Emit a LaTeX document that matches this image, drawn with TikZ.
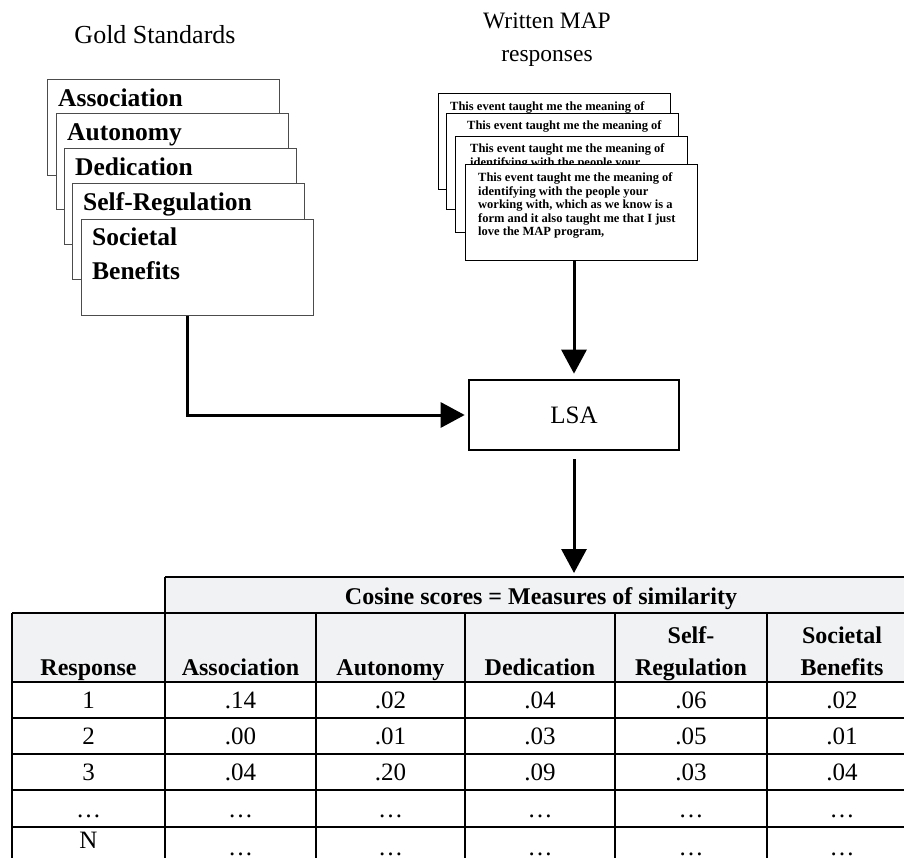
\documentclass[tikz,border=0pt]{standalone}
\usepackage{fontspec}
\setmainfont{Liberation Serif}
\usetikzlibrary{arrows.meta,positioning}
\definecolor{headgray}{HTML}{F1F2F4}

\begin{document}
\begin{tikzpicture}[x=1pt, y=-1pt, >={Triangle[length=24pt,width=25pt]},
    card/.style={draw=black!70, line width=1.2pt, fill=white, anchor=north west,
      minimum width=232pt, minimum height=96pt, inner sep=0pt},
    mapcard/.style={card, draw=black},
    cardlabel/.style={anchor=base west, inner sep=0pt, align=left,
      font=\fontsize{25.5}{35}\selectfont\bfseries},
    maptext/.style={anchor=base west, inner sep=0pt, align=left,
      font=\fontsize{12.5}{13.4}\selectfont\bfseries},
    title/.style={anchor=base, inner sep=0pt, align=center},
    flow/.style={->, line width=3pt},
    rule/.style={line width=2.8pt},
    colhead/.style={anchor=base, inner sep=0pt, align=center,
      font=\fontsize{24}{32}\selectfont\bfseries},
    entry/.style={anchor=base, inner sep=0pt, font=\fontsize{25}{30}\selectfont}]
    \useasboundingbox (0,0) rectangle (904,858);
    \clip (0,0) rectangle (904,858);

    % Titles (base = last line)
    \node[title, font=\fontsize{26}{30}\selectfont] (gold) at (155,44) {Gold Standards};
    \node[title, font=\fontsize{23.5}{33}\selectfont] (written) at (547,62) {Written MAP\\responses};

    % Gold standard cards
    \foreach \n/\x/\y/\dy/\t in {1/47/79/28/Association, 2/56/113/28/Autonomy,
        3/64/148/28/Dedication, 4/72/183/28/Self-Regulation, 5/81/219/61/{Societal\\Benefits}} {
      \node[card] (gs\n) at (\x,\y) {};
      \node[cardlabel] (gs\n-t) at ([shift={(11,\dy)}]gs\n.north west) {\t};
    }

    % Written responses
    \node[mapcard] (mr1) at (438,93) {};
    \node[maptext] (mr1-t) at ([shift={(12,18)}]mr1.north west) {This event taught me the meaning of};
    \node[mapcard] (mr2) at (446,113) {};
    \node[maptext] (mr2-t) at ([shift={(21,17)}]mr2.north west) {This event taught me the meaning of};
    \node[mapcard] (mr3) at (455,136) {};
    \node[maptext] (mr3-t) at ([shift={(15,30.4)}]mr3.north west) {This event taught me the meaning of\\identifying with the people your};
    \node[mapcard] (mr4) at (465,164) {};
    \node[maptext] (mr4-t) at ([shift={(13,71.6)}]mr4.north west)
      {This event taught me the meaning of\\identifying with the people your\\working with, which as we know is a\\form and it also taught me that I just\\love the MAP program,};

    % LSA
    \node[draw, line width=2.6pt, minimum width=210pt, minimum height=70pt,
      font=\fontsize{25}{30}\selectfont] (lsa) at (574,415) {LSA};

    % Table
    \fill[headgray] (165,577) rectangle (917,613);
    \fill[headgray] (12,613) rectangle (917,682);
    \draw[rule] (165,577) -- (917,577);
    \foreach \y in {613,682,718,754,790,827}
      \draw[rule] (12,\y) -- (917,\y);
    \draw[rule] (12,613) -- (12,870);
    \foreach \x in {165,917}
      \draw[rule] (\x,577) -- (\x,870);
    \foreach \x in {316,465,615,767}
      \draw[rule] (\x,613) -- (\x,870);

    \node[colhead] (cos) at (541,604) {Cosine scores = Measures of similarity};
    \foreach \c/\x/\t in {0/88.5/Response, 1/240.5/Association, 2/390.5/Autonomy,
        3/540/Dedication, 4/691/{Self-\\Regulation}, 5/842/{Societal\\Benefits}}
      \node[colhead] (h\c) at (\x,675) {\t};

    \foreach \r/\y/\a/\b/\cc/\d/\e/\f in {1/708/1/.14/.02/.04/.06/.02,
        2/744/2/.00/.01/.03/.05/.01, 3/780/3/.04/.20/.09/.03/.04,
        4/817/\ldots/\ldots/\ldots/\ldots/\ldots/\ldots} {
      \node[entry] (v\r-0) at (88.5,\y) {\a};
      \node[entry] (v\r-1) at (240.5,\y) {\b};
      \node[entry] (v\r-2) at (390.5,\y) {\cc};
      \node[entry] (v\r-3) at (540,\y) {\d};
      \node[entry] (v\r-4) at (691,\y) {\e};
      \node[entry] (v\r-5) at (842,\y) {\f};
    }
    \node[entry] (v5-0) at (88.5,848) {N};
    \foreach \c/\x in {1/240.5, 2/390.5, 3/540, 4/691, 5/842}
      \node[entry] (v5-\c) at (\x,855) {\ldots};

    % Flow
    \draw[flow, shorten >=5pt] (lsa.north |- mr4.south) -- (lsa.north);
    \draw[flow, shorten >=3pt] ([xshift=-10pt]gs5.south) |- (lsa.west);
    \draw[flow, shorten <=8pt, shorten >=4pt] (lsa.south) -- (lsa.south |- 0,577);
  \end{tikzpicture}
\end{document}
